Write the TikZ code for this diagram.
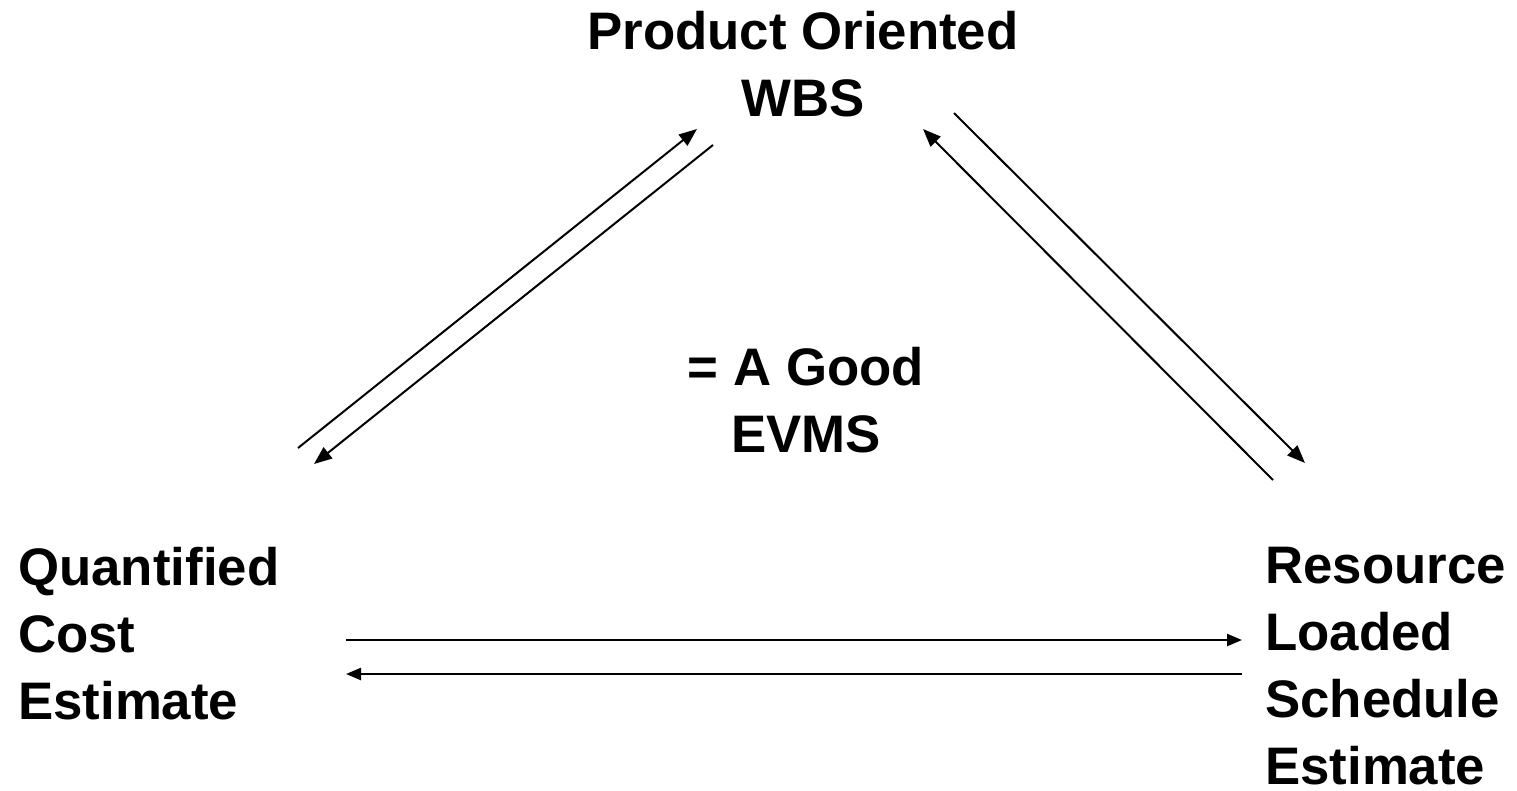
\documentclass[tikz,border=0pt]{standalone}
\usepackage{fontspec}
\setmainfont{Liberation Sans}
\usetikzlibrary{arrows.meta}
\begin{document}
\begin{tikzpicture}[x=1pt,y=-1pt,
  lbl/.style={inner sep=0pt,font=\bfseries\fontsize{52.8}{67}\selectfont},
  conn/.style={line width=2pt,-{Triangle[length=18pt,width=14pt]}},
  hconn/.style={line width=2.4pt,-{Triangle[length=15pt,width=12pt]}}]
\useasboundingbox (0,0) rectangle (1517,790);
\node[lbl,align=center,anchor=north] (wbs) at (803,11) {Product Oriented\\WBS};
\node[lbl,align=center,anchor=north] (evms) at (806,347) {= A Good\\EVMS};
\node[lbl,align=left,anchor=north west] (cost) at (18,547) {Quantified\\Cost\\Estimate};
\node[lbl,align=left,anchor=north west] (sched) at (1265,547) {Resource\\Loaded\\Schedule\\Estimate};
\coordinate (a1) at (298,448); \coordinate (a2) at (697,129);
\coordinate (b1) at (713,145); \coordinate (b2) at (314,464);
\coordinate (c1) at (954,113); \coordinate (c2) at (1305,463);
\coordinate (d1) at (1273,480); \coordinate (d2) at (923,129);
\coordinate (e1) at (346,640); \coordinate (e2) at (1242,640);
\coordinate (f1) at (1242,674); \coordinate (f2) at (346,674);
\draw[conn] (a1) -- (a2);
\draw[conn] (b1) -- (b2);
\draw[conn] (c1) -- (c2);
\draw[conn] (d1) -- (d2);
\draw[hconn] (e1) -- (e2);
\draw[hconn] (f1) -- (f2);
\end{tikzpicture}
\end{document}
